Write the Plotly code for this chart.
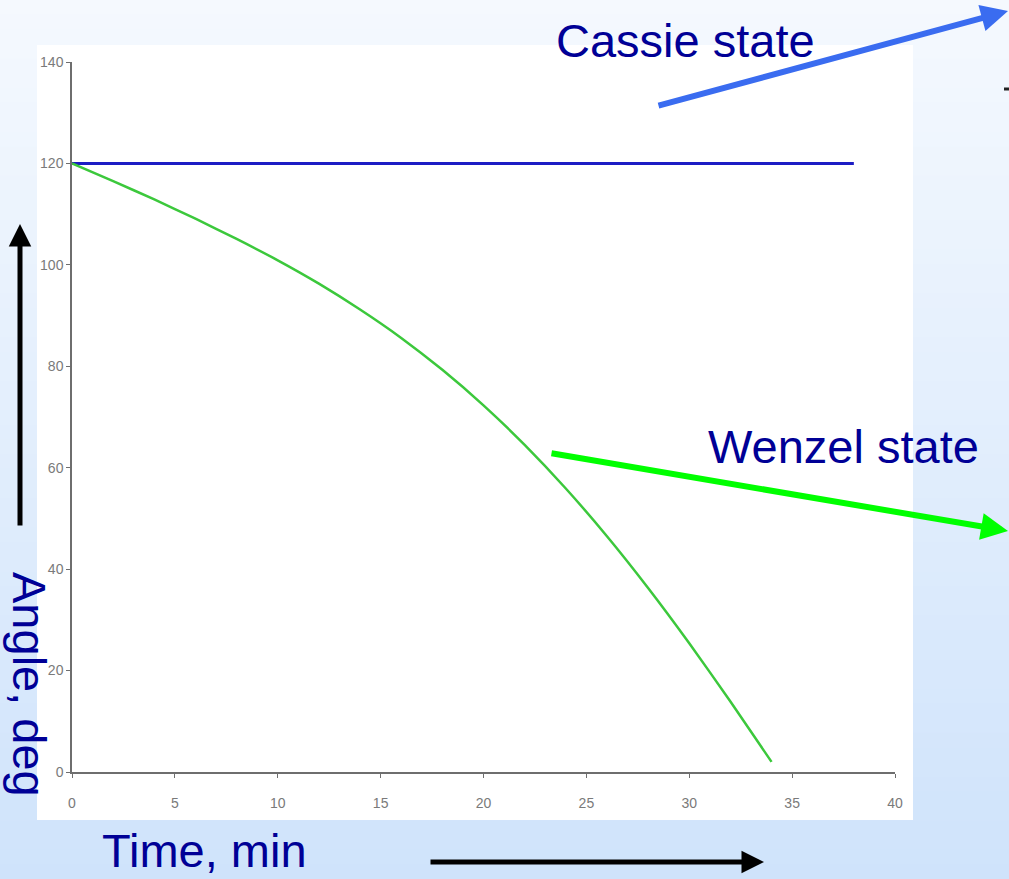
import plotly.graph_objects as go

# Contact angle over time for the two wetting states
time_min = [0, 2, 4, 6, 8, 10, 12, 14, 16, 18, 20, 22, 24, 26, 28, 30, 32, 34]
wenzel_angle = [120, 116.5, 112.9, 109.1, 105.1, 100.9, 96.3, 91.2, 85.6, 79.3,
                72.3, 64.5, 55.9, 46.5, 36.3, 25.4, 13.9, 2]
cassie_time = [0, 38]
cassie_angle = [120, 120]

x_ticks = [0, 5, 10, 15, 20, 25, 30, 35, 40]
y_ticks = [0, 20, 40, 60, 80, 100, 120, 140]

W, H = 1009, 879
ML, MR, MT, MB = 72, 114, 62, 107
PW, PH = W - ML - MR, H - MT - MB


def px(x, y):
    """Page pixel position -> paper coordinates."""
    return (x - ML) / PW, (H - MB - y) / PH


def lerp(c0, c1, t):
    return "rgb(%d,%d,%d)" % tuple(round(a + (b - a) * t) for a, b in zip(c0, c1))


fig = go.Figure()

fig.add_trace(go.Scatter(
    x=cassie_time, y=cassie_angle, mode="lines",
    line=dict(color="#1c1cc4", width=3), showlegend=False, hoverinfo="skip"))
fig.add_trace(go.Scatter(
    x=time_min, y=wenzel_angle, mode="lines",
    line=dict(color="#3cc83c", width=2.5, shape="spline", smoothing=0.6),
    showlegend=False, hoverinfo="skip"))

shapes = []
# slide background: vertical light-blue gradient
top_c, bot_c = (245, 249, 254), (207, 227, 251)
n = 60
for i in range(n):
    y0 = H * i / n
    y1 = H * (i + 1) / n + 1
    x0p, y0p = px(0, y0)
    x1p, y1p = px(W, y1)
    shapes.append(dict(type="rect", xref="paper", yref="paper", layer="below",
                       x0=x0p, x1=x1p, y0=y0p, y1=y1p, line=dict(width=0),
                       fillcolor=lerp(top_c, bot_c, (i + 0.5) / n)))
# white chart panel
a0, b0 = px(37, 820)
a1, b1 = px(913, 45)
shapes.append(dict(type="rect", xref="paper", yref="paper", layer="below",
                   x0=a0, x1=a1, y0=b0, y1=b1, line=dict(width=0), fillcolor="white"))
# small clipped mark at the right edge
c0, d0 = px(1004, 89)
c1, d1 = px(1009, 89)
shapes.append(dict(type="line", xref="paper", yref="paper", x0=c0, x1=c1, y0=d0, y1=d1,
                   line=dict(color="#222", width=3)))

annotations = []


def arrow(tail, tip, color, width):
    xp, yp = px(*tip)
    annotations.append(dict(
        x=xp, y=yp, xref="paper", yref="paper", text="", showarrow=True,
        ax=tail[0] - tip[0], ay=tail[1] - tip[1], axref="pixel", ayref="pixel",
        arrowhead=2, arrowsize=0.9, arrowwidth=width, arrowcolor=color))


arrow((657, 106), (1018, 11), "#3a6cf0", 6)
arrow((550, 453), (1016, 531), "#00ff00", 6)
arrow((20, 527), (20, 224), "black", 5)
arrow((429, 862), (764, 862), "black", 5)

label_font = dict(family="Liberation Sans, Arial", size=47, color="#000096")


def label(text, x, y, angle=0, yanchor="middle"):
    xp, yp = px(x, y)
    annotations.append(dict(x=xp, y=yp, xref="paper", yref="paper", text=text,
                            showarrow=False, font=label_font, textangle=angle,
                            xanchor="center", yanchor=yanchor))


label("Cassie state", 685, 40)
label("Wenzel state", 843, 447)
label("Time, min", 204, 879, yanchor="bottom")
label("Angle, deg", 30, 684, 90)

axis_common = dict(
    showgrid=False, zeroline=False, showline=True, linecolor="#6e6e6e", linewidth=1.5,
    ticks="outside", ticklen=4, tickcolor="#6e6e6e", tickwidth=1,
    tickfont=dict(family="Liberation Sans Narrow, Liberation Sans, Arial", size=14, color="#7a7a7a"),
)

fig.update_layout(
    width=W, height=H,
    margin=dict(l=ML, r=MR, t=MT, b=MB, pad=0),
    paper_bgcolor="rgb(245,249,254)",
    plot_bgcolor="rgba(0,0,0,0)",
    shapes=shapes,
    annotations=annotations,
    xaxis=dict(range=[0, 40], tickvals=x_ticks, ticklabelstandoff=13, **axis_common),
    yaxis=dict(range=[0, 140], tickvals=y_ticks, **axis_common),
)

fig.write_html("out.html")
